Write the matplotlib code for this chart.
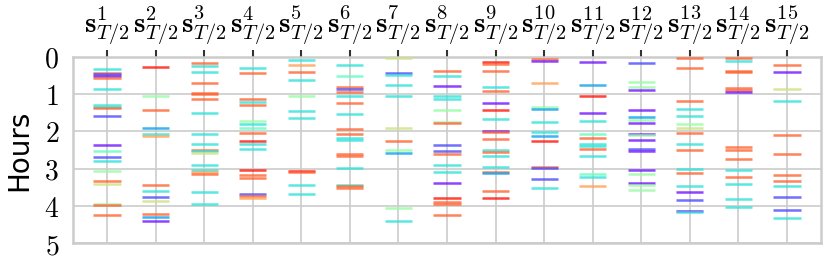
import numpy as np
import matplotlib
matplotlib.use("Agg")
import matplotlib.pyplot as plt

# hour at which each event happens, one list per sample s^i_{T/2}
hours = [
    [0.31, 0.42, 0.47, 0.51, 0.56, 0.86, 1.30, 1.34, 1.38, 1.58, 2.37, 2.52, 2.69, 2.80, 3.06, 3.32, 3.42, 3.96, 3.98, 4.24],
    [0.28, 1.06, 1.42, 1.90, 2.07, 2.12, 3.44, 3.59, 3.75, 3.87, 4.22, 4.31, 4.42],
    [0.15, 0.24, 0.39, 0.69, 0.96, 1.00, 1.13, 1.51, 2.06, 2.33, 2.49, 2.53, 2.58, 2.90, 3.04, 3.09, 3.15, 3.64, 3.95],
    [0.29, 0.44, 1.13, 1.22, 1.28, 1.71, 1.79, 1.92, 2.03, 2.25, 2.33, 2.48, 3.04, 3.17, 3.25, 3.68, 3.73, 3.80],
    [0.08, 0.21, 0.39, 0.63, 1.06, 1.45, 1.65, 3.06, 3.08, 3.43, 3.69],
    [0.22, 0.50, 0.80, 0.87, 0.93, 1.06, 1.24, 1.52, 1.94, 2.07, 2.19, 2.23, 2.61, 2.65, 2.98, 3.44, 3.48, 3.52],
    [0.03, 0.43, 0.48, 0.75, 1.06, 1.92, 2.27, 2.50, 2.57, 4.07, 4.42],
    [0.38, 0.50, 0.78, 1.04, 1.12, 1.42, 1.74, 1.77, 2.36, 2.52, 2.60, 2.89, 3.09, 3.38, 3.79, 3.91, 3.95, 4.26],
    [0.13, 0.19, 0.38, 0.82, 0.92, 1.25, 1.43, 1.67, 1.99, 2.02, 2.21, 2.50, 2.56, 2.66, 2.96, 3.09, 3.12, 3.61, 3.78],
    [0.06, 0.10, 0.70, 1.35, 1.40, 1.76, 2.01, 2.12, 2.25, 2.95, 2.98, 3.28, 3.53],
    [0.14, 0.74, 1.06, 1.51, 1.72, 2.07, 2.17, 2.35, 2.39, 2.48, 2.66, 3.15, 3.23, 3.47],
    [0.17, 0.66, 0.80, 0.90, 1.42, 1.61, 1.70, 1.78, 2.06, 2.11, 2.23, 2.47, 2.52, 3.03, 3.15, 3.38, 3.44, 3.57],
    [0.04, 0.30, 1.18, 1.41, 1.59, 1.80, 1.92, 2.03, 2.35, 2.51, 3.02, 3.11, 3.48, 3.64, 3.84, 4.13, 4.16],
    [0.04, 0.10, 0.37, 0.41, 0.83, 0.89, 0.93, 2.42, 2.51, 2.74, 3.03, 3.22, 3.41, 3.83, 4.03],
    [0.22, 0.39, 0.85, 1.19, 2.11, 2.62, 3.17, 3.32, 3.47, 3.77, 4.11, 4.32],
]

# event type of each mark (one letter per event, same order as hours)
kinds = [
    "CTBPTCCCTBPMBCGTYGTT",
    "RGTSCOTCBYTSP",
    "TCCTTTTCCCTCYCCOTCC",
    "CTTCTGCMTRCCRTTBTO",
    "COTCGCCRTCC",
    "CMTBTCTCTTCCTTCCTT",
    "YBCCCYTGSGC",
    "TCPCCGGTBBTCCPRTTT",
    "RTTCTPRCPTTCTCCTSTR",
    "TPOGSCCSRTBBC",
    "PSRPCMTCCTCMCO",
    "BGGPPSGPPGPBPPGPGG",
    "TTTCCGYTCTCTCPBPC",
    "TCTTTTPTTTCTCCC",
    "TPYCTTTTCBBC",
]

# position of each event type along the rainbow colormap
kind_levels = {"P": 0.03, "B": 0.10, "S": 0.22, "C": 0.35, "M": 0.45,
               "G": 0.55, "Y": 0.65, "O": 0.78, "T": 0.87, "R": 0.97}

labels = [r"$\mathbf{s}^{%d}_{T/2}$" % (i + 1) for i in range(len(hours))]

plt.rcParams["mathtext.fontset"] = "cm"
cmap = plt.get_cmap("rainbow")

fig = plt.figure(figsize=(8.31, 2.71), dpi=100)
ax = fig.add_axes([0.0878, 0.1033, 0.9002, 0.6864])

half = 0.28
for i, (hs, ks) in enumerate(zip(hours, kinds)):
    x = i + 1
    cols = [cmap(kind_levels[k]) for k in ks]
    ax.hlines(hs, x - half, x + half, colors=cols, linewidth=1.8, alpha=0.8, zorder=3)

ax.set_xlim(0.3, len(hours) + 0.7)
ax.set_ylim(5, 0)
ax.set_xticks(range(1, len(hours) + 1))
ax.set_xticklabels(labels, fontsize=21)
ax.xaxis.tick_top()
ax.tick_params(axis="x", length=5, width=1.5, color="#333333", pad=2)
ax.set_yticks(range(6))
ax.set_yticklabels([r"$%d$" % v for v in range(6)], fontsize=20)
ax.tick_params(axis="y", length=0, pad=10)
ax.set_ylabel("Hours", fontsize=20, labelpad=8)

ax.grid(True, color="#cccccc", linewidth=1.2, zorder=0)
ax.set_axisbelow(True)
for sp in ax.spines.values():
    sp.set_color("#cccccc")
    sp.set_linewidth(1.8)

fig.savefig("out.png", dpi=100)
